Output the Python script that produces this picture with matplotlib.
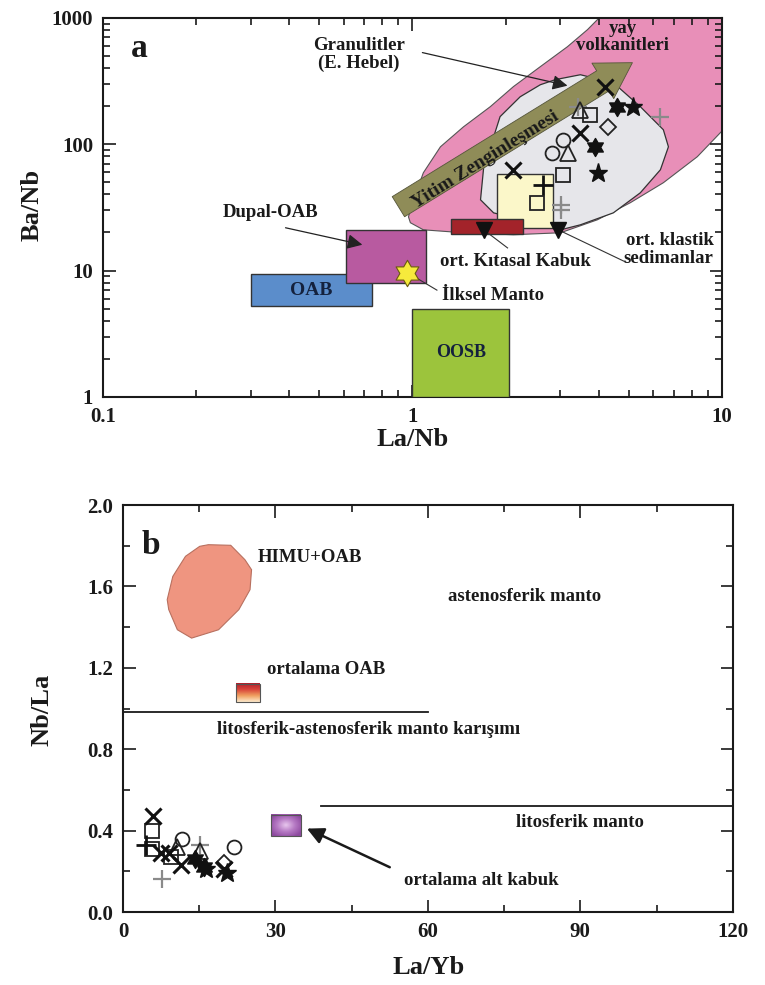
import numpy as np
import matplotlib
matplotlib.use('Agg')
import matplotlib.pyplot as plt
from matplotlib.path import Path
from matplotlib.patches import Polygon, Rectangle
from matplotlib.ticker import LogLocator, FixedLocator, FuncFormatter, NullFormatter, MultipleLocator

plt.rcParams['font.family'] = ['Liberation Serif', 'DejaVu Serif']
plt.rcParams['font.weight'] = 'bold'
plt.rcParams['mathtext.default'] = 'regular'

# ---------------- Panel a data (La/Nb vs Ba/Nb) ----------------
pink_x = [0.971, 1.007, 1.085, 1.232, 1.462, 1.786, 2.12, 2.59, 3.17, 3.68, 4.05, 4.46, 12.1, 12.1,
          10.1, 8.33, 6.47, 5.06, 3.96, 3.01, 2.12, 1.462, 1.085, 0.985]
pink_y = [26.6, 36.3, 59.4, 95.3, 137, 198, 285, 410, 590, 805, 1020, 1670, 1670, 165,
          130, 79.5, 49.5, 34.4, 25.2, 19.9, 19.2, 19.9, 21.0, 23.9]
gray_x = [2.90, 3.49, 4.46, 5.45, 6.47, 6.72, 6.33, 5.45, 4.46, 3.49, 3.01, 2.40, 1.83, 1.66,
          1.70, 1.83, 1.92, 2.23, 2.59]
gray_y = [324, 354, 306, 198, 130, 95.3, 62.7, 41.2, 28.6, 23.0, 21.0, 24.3, 28.6, 36.3,
          66, 114, 165, 237, 295]

oab_box = (0.30, 0.74, 5.2, 9.4)          # x0, x1, y0, y1
dupal_box = (0.61, 1.11, 8.0, 21.0)
oosb_box = (1.0, 2.05, 1.0, 5.0)
sed_box = (1.88, 2.85, 21.8, 58.0)
crust_box = (1.33, 2.27, 19.5, 25.5)
prim_mantle = (0.96, 9.6)
crust_avg = (1.70, 21.0)
sed_avg = (2.96, 21.0)

a_x_x = [4.20, 3.49, 2.12]; a_x_y = [285, 123, 62.7]
a_hex_x = [4.60, 3.90]; a_hex_y = [198, 95]
a_star_x = [5.18, 3.99]; a_star_y = [198, 59.4]
a_dia_x = [4.30]; a_dia_y = [137]
a_tri_x = [3.49, 3.19]; a_tri_y = [187, 85.5]
a_cir_x = [3.07, 2.83]; a_cir_y = [108, 85.5]
a_sq_x = [3.76, 3.07, 2.53]; a_sq_y = [171, 57.3, 34.4]
a_plus_x = [2.65]; a_plus_y = [47.7]
a_gplus_x = [3.44, 6.33, 3.01, 3.01]; a_gplus_y = [198, 165, 33.1, 30.2]

a_xticks = [0.1, 1, 10]
a_yticks = [1, 10, 100, 1000]

# ---------------- Panel b data (La/Yb vs Nb/La) ----------------
himu_x = [16.8, 21.2, 24.0, 25.3, 25.0, 22.8, 18.8, 13.5, 10.7, 9.0, 8.7, 9.8, 12.3, 15.1]
himu_y = [1.805, 1.802, 1.731, 1.682, 1.584, 1.486, 1.387, 1.346, 1.387, 1.486, 1.535, 1.649, 1.748, 1.797]
oab_avg_box = (22.2, 26.9, 1.03, 1.12)
lower_crust_box = (29.1, 35.0, 0.372, 0.478)
mix_line_x = [0, 60]; mix_line_y = [0.985, 0.985]
lith_line_x = [39, 120]; lith_line_y = [0.52, 0.52]

b_x_x = [5.9, 7.5, 9.0, 11.5, 19.9]; b_x_y = [0.47, 0.29, 0.29, 0.23, 0.21]
b_sq_x = [5.7, 5.7, 9.4]; b_sq_y = [0.40, 0.31, 0.27]
b_plus_x = [4.5]; b_plus_y = [0.33]
b_gplus_x = [7.7, 15.1]; b_gplus_y = [0.16, 0.33]
b_cir_x = [11.6, 21.8]; b_cir_y = [0.36, 0.32]
b_tri_x = [10.6, 15.1]; b_tri_y = [0.32, 0.30]
b_hex_x = [14.2, 15.9]; b_hex_y = [0.26, 0.22]
b_star_x = [16.3, 20.5]; b_star_y = [0.21, 0.19]
b_dia_x = [19.9]; b_dia_y = [0.24]

b_xticks = [0, 30, 60, 90, 120]
b_yticks = [0.0, 0.4, 0.8, 1.2, 1.6, 2.0]

TXT = '#1a1a1a'


def hexagram():
    ang = np.deg2rad(90 + np.arange(12) * 30)
    r = np.where(np.arange(12) % 2 == 0, 1.0, 0.577)
    v = np.column_stack([r * np.cos(ang), r * np.sin(ang)])
    v = np.vstack([v, v[0]])
    codes = [Path.MOVETO] + [Path.LINETO] * 11 + [Path.CLOSEPOLY]
    return Path(v, codes)


HEX = hexagram()


def draw_markers(ax, d):
    ax.plot(d['gplus'][0], d['gplus'][1], ls='none', marker='+', ms=13, mew=1.6, color='#8a8a8a', zorder=5)
    ax.plot(d['sq'][0], d['sq'][1], ls='none', marker='s', ms=10, mfc='none', mec='#222222', mew=1.3, zorder=6)
    ax.plot(d['tri'][0], d['tri'][1], ls='none', marker='^', ms=11, mfc='none', mec='#222222', mew=1.3, zorder=6)
    ax.plot(d['cir'][0], d['cir'][1], ls='none', marker='o', ms=10, mfc='none', mec='#222222', mew=1.3, zorder=6)
    ax.plot(d['dia'][0], d['dia'][1], ls='none', marker='D', ms=8, mfc='none', mec='#222222', mew=1.3, zorder=6)
    ax.plot(d['x'][0], d['x'][1], ls='none', marker='x', ms=11, mec='#111111', mew=2.2, zorder=7)
    ax.plot(d['plus'][0], d['plus'][1], ls='none', marker='+', ms=14, mec='#111111', mew=2.0, zorder=7)
    ax.plot(d['hex'][0], d['hex'][1], ls='none', marker=HEX, ms=13, mfc='#111111', mec='#111111', zorder=7)
    ax.plot(d['star'][0], d['star'][1], ls='none', marker='*', ms=14, mfc='#111111', mec='#111111', zorder=7)


def style_ticks(ax):
    ax.tick_params(which='both', direction='in', top=True, right=True, labelsize=15, width=1.2, colors='#1a1a1a')
    ax.tick_params(which='major', length=9, pad=7)
    ax.tick_params(which='minor', length=5)
    for s in ax.spines.values():
        s.set_linewidth(1.5)
        s.set_color('#1a1a1a')
    for lab in ax.get_xticklabels() + ax.get_yticklabels():
        lab.set_fontweight('bold')


fig = plt.figure(figsize=(7.65, 9.85), dpi=100)

# ======================= Panel a =======================
ax = fig.add_axes([0.1346, 0.597, 0.809, 0.385])
ax.set_xscale('log'); ax.set_yscale('log')
ax.set_xlim(0.1, 10); ax.set_ylim(1, 1000)

ax.add_patch(Polygon(np.column_stack([pink_x, pink_y]), closed=True, fc='#e88fb8', ec='#555555', lw=0.8, zorder=1))
ax.add_patch(Polygon(np.column_stack([gray_x, gray_y]), closed=True, fc='#e6e6ea', ec='#333333', lw=0.9, zorder=2))

def box(ax, b, fc, z=3, ec='#333333'):
    ax.add_patch(Rectangle((b[0], b[2]), b[1] - b[0], b[3] - b[2], fc=fc, ec=ec, lw=1.0, zorder=z))

box(ax, oab_box, '#5b8dcb')
box(ax, dupal_box, '#b85aa0')
box(ax, oosb_box, '#9cc43c')
box(ax, sed_box, '#fbf7c9', z=3)
box(ax, crust_box, '#a3232a', z=3)

# subduction enrichment arrow
ax.annotate('', xy=(5.14, 441), xytext=(0.901, 32), zorder=4,
            arrowprops=dict(arrowstyle='simple,head_length=2.5,head_width=3.0,tail_width=1.7',
                            fc='#8f8c58', ec='#55553a', lw=0.6, shrinkA=0, shrinkB=0))
ax.text(1.72, 75, 'Yitim Zenginleşmesi', rotation=32, ha='center', va='center',
        fontsize=14, color=TXT, zorder=8, rotation_mode='anchor')

draw_markers(ax, dict(x=(a_x_x, a_x_y), hex=(a_hex_x, a_hex_y), star=(a_star_x, a_star_y),
                      dia=(a_dia_x, a_dia_y), tri=(a_tri_x, a_tri_y), cir=(a_cir_x, a_cir_y),
                      sq=(a_sq_x, a_sq_y), plus=(a_plus_x, a_plus_y), gplus=(a_gplus_x, a_gplus_y)))

# reference points
ax.plot([crust_avg[0], sed_avg[0]], [crust_avg[1], sed_avg[1]], ls='none', marker='v', ms=12,
        color='#111111', zorder=8)
ax.plot([prim_mantle[0]], [prim_mantle[1]], ls='none', marker=HEX, ms=19, mfc='#f6ea3c', mec='#6b5a10',
        mew=0.8, zorder=8)

# labels and pointers
ax.text(0.131, 569, 'a', fontsize=24, ha='center', va='center', color=TXT)
ax.text(0.67, 515, 'Granulitler\n(E. Hebel)', fontsize=13.5, ha='center', va='center', color=TXT,
        linespacing=1.05)
ax.annotate('', xy=(3.17, 290), xytext=(1.077, 530),
            arrowprops=dict(arrowstyle='-|>,head_length=0.9,head_width=0.45', color='#222222', lw=0.9,
                            shrinkA=0, shrinkB=0), zorder=9)
ax.text(0.348, 29, 'Dupal-OAB', fontsize=13.5, ha='center', va='center', color=TXT)
ax.annotate('', xy=(0.689, 16.0), xytext=(0.389, 21.8),
            arrowprops=dict(arrowstyle='-|>,head_length=0.9,head_width=0.45', color='#222222', lw=0.9,
                            shrinkA=0, shrinkB=0), zorder=9)
ax.text((oab_box[0] * oab_box[1]) ** 0.5, (oab_box[2] * oab_box[3]) ** 0.5, 'OAB', fontsize=14,
        ha='center', va='center', color='#14213d', zorder=9)
ax.text((oosb_box[0] * oosb_box[1]) ** 0.5, (oosb_box[2] * oosb_box[3]) ** 0.5, 'OOSB', fontsize=13,
        ha='center', va='center', color='#14213d', zorder=9)
ax.plot([0.98, 1.20], [9.4, 7.0], color='#333333', lw=0.8, zorder=7)
ax.text(1.25, 6.3, 'İlksel Manto', fontsize=13.5, ha='left', va='center', color=TXT)
ax.plot([crust_avg[0], 2.03], [crust_avg[1], 15.1], color='#333333', lw=0.8, zorder=7)
ax.text(1.23, 11.7, 'ort. Kıtasal Kabuk', fontsize=13.5, ha='left', va='center', color=TXT)
ax.plot([sed_avg[0], 4.88], [sed_avg[1], 11.7], color='#333333', lw=0.8, zorder=7)
ax.text(9.4, 14.6, 'ort. klastik\nsedimanlar', fontsize=13.5, ha='right', va='center', color=TXT,
        multialignment='right', linespacing=1.1)
ax.text(4.77, 700, 'yay\nvolkanitleri', fontsize=13.5, ha='center', va='center', color=TXT,
        linespacing=1.0, zorder=9)

ax.xaxis.set_major_locator(FixedLocator(a_xticks))
ax.yaxis.set_major_locator(FixedLocator(a_yticks))
ax.xaxis.set_minor_locator(LogLocator(base=10, subs=np.arange(2, 10)))
ax.yaxis.set_minor_locator(LogLocator(base=10, subs=np.arange(2, 10)))
ax.xaxis.set_minor_formatter(NullFormatter()); ax.yaxis.set_minor_formatter(NullFormatter())
ax.xaxis.set_major_formatter(FuncFormatter(lambda v, p: f'{v:g}'))
ax.yaxis.set_major_formatter(FuncFormatter(lambda v, p: f'{v:g}'))
style_ticks(ax)

fig.text(0.539, 1 - 440 / 985, 'La/Nb', fontsize=19, ha='center', va='center', color=TXT)
fig.text(0.042, 1 - 205 / 985, 'Ba/Nb', fontsize=19, ha='center', va='center', rotation=90, color=TXT)

# ======================= Panel b =======================
bx = fig.add_axes([0.1608, 0.0741, 0.797, 0.4132])
bx.set_xlim(0, 120); bx.set_ylim(0, 2.0)

bx.add_patch(Polygon(np.column_stack([himu_x, himu_y]), closed=True, fc='#ef9580', ec='#b8705f', lw=0.8, zorder=2))

# gradient boxes
grad = np.linspace(0, 1, 64).reshape(-1, 1)
cm_oab = matplotlib.colors.LinearSegmentedColormap.from_list('oab', ['#fde9cc', '#f0a060', '#d8443a', '#b01e2a'])
bx.imshow(grad, extent=(oab_avg_box[0], oab_avg_box[1], oab_avg_box[2], oab_avg_box[3]), origin='lower',
          cmap=cm_oab, aspect='auto', zorder=3)
bx.add_patch(Rectangle((oab_avg_box[0], oab_avg_box[2]), oab_avg_box[1] - oab_avg_box[0],
                       oab_avg_box[3] - oab_avg_box[2], fc='none', ec='#555555', lw=0.8, zorder=4))
gx, gy = np.meshgrid(np.linspace(-1, 1, 60), np.linspace(-1, 1, 60))
rad = np.clip(np.sqrt(gx ** 2 + gy ** 2) / 1.2, 0, 1)
cm_lc = matplotlib.colors.LinearSegmentedColormap.from_list('lc', ['#e6c4ec', '#b67ac4', '#8e4aa0'])
bx.imshow(rad, extent=(lower_crust_box[0], lower_crust_box[1], lower_crust_box[2], lower_crust_box[3]),
          origin='lower', cmap=cm_lc, aspect='auto', zorder=3)
bx.add_patch(Rectangle((lower_crust_box[0], lower_crust_box[2]), lower_crust_box[1] - lower_crust_box[0],
                       lower_crust_box[3] - lower_crust_box[2], fc='none', ec='#555555', lw=0.8, zorder=4))
bx.set_xlim(0, 120); bx.set_ylim(0, 2.0)

bx.plot(mix_line_x, mix_line_y, color='#1a1a1a', lw=1.3, zorder=3)
bx.plot(lith_line_x, lith_line_y, color='#1a1a1a', lw=1.3, zorder=3)

draw_markers(bx, dict(x=(b_x_x, b_x_y), hex=(b_hex_x, b_hex_y), star=(b_star_x, b_star_y),
                      dia=(b_dia_x, b_dia_y), tri=(b_tri_x, b_tri_y), cir=(b_cir_x, b_cir_y),
                      sq=(b_sq_x, b_sq_y), plus=(b_plus_x, b_plus_y), gplus=(b_gplus_x, b_gplus_y)))

bx.text(5.5, 1.80, 'b', fontsize=24, ha='center', va='center', color=TXT)
bx.text(26.5, 1.74, 'HIMU+OAB', fontsize=13.5, ha='left', va='center', color=TXT)
bx.text(79, 1.55, 'astenosferik manto', fontsize=13.5, ha='center', va='center', color=TXT)
bx.text(28.3, 1.19, 'ortalama OAB', fontsize=13.5, ha='left', va='center', color=TXT)
bx.text(18.5, 0.895, 'litosferik-astenosferik manto karışımı', fontsize=13.5, ha='left', va='center', color=TXT)
bx.text(90, 0.44, 'litosferik manto', fontsize=13.5, ha='center', va='center', color=TXT)
bx.text(70.5, 0.155, 'ortalama alt kabuk', fontsize=13.5, ha='center', va='center', color=TXT)
bx.annotate('', xy=(36.2, 0.41), xytext=(52.5, 0.22),
            arrowprops=dict(arrowstyle='-|>,head_length=1.0,head_width=0.5', color='#1a1a1a', lw=1.8,
                            shrinkA=0, shrinkB=0), zorder=9)

bx.xaxis.set_major_locator(FixedLocator(b_xticks))
bx.yaxis.set_major_locator(FixedLocator(b_yticks))
bx.xaxis.set_minor_locator(MultipleLocator(15))
bx.yaxis.set_minor_locator(MultipleLocator(0.2))
bx.yaxis.set_major_formatter(FuncFormatter(lambda v, p: f'{v:.1f}'))
bx.xaxis.set_major_formatter(FuncFormatter(lambda v, p: f'{v:g}'))
style_ticks(bx)

fig.text(0.56, 1 - 968 / 985, 'La/Yb', fontsize=19, ha='center', va='center', color=TXT)
fig.text(0.055, 1 - 710 / 985, 'Nb/La', fontsize=19, ha='center', va='center', rotation=90, color=TXT)

fig.savefig('out.png', dpi=100)
